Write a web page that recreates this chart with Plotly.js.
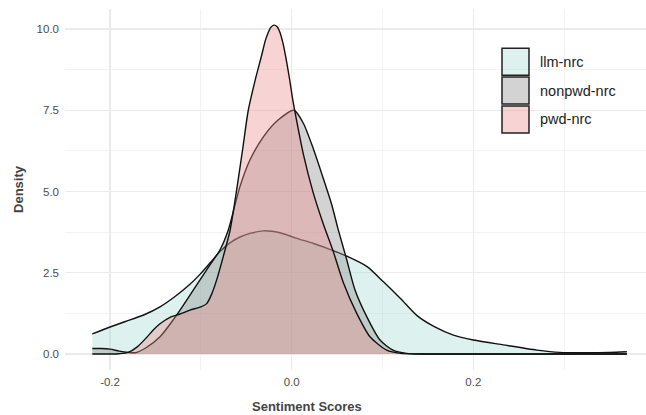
<!DOCTYPE html>
<html><head><meta charset="utf-8">
<script src="https://cdn.plot.ly/plotly-3.0.1.min.js"></script>
<style>html,body{margin:0;padding:0;background:#fff}#chart{width:646px;height:415px}</style>
</head><body><div id="chart"></div>
<script>
// ---- data ----
const seriesNames = ['llm-nrc', 'nonpwd-nrc', 'pwd-nrc'];

const llmX = [-0.2195, -0.2, -0.183, -0.163, -0.145, -0.127, -0.113, -0.101, -0.09, -0.079, -0.068, -0.057, -0.046, -0.031, -0.013, 0.0055, 0.024, 0.042, 0.06, 0.083, 0.101, 0.12, 0.138, 0.157, 0.178, 0.2, 0.233, 0.27, 0.295, 0.325, 0.35, 0.369];
const llmY = [0.62, 0.83, 1.0, 1.2, 1.45, 1.8, 2.12, 2.45, 2.8, 3.15, 3.42, 3.6, 3.71, 3.79, 3.73, 3.56, 3.4, 3.22, 3.02, 2.69, 2.22, 1.7, 1.18, 0.84, 0.58, 0.43, 0.28, 0.12, 0.05, 0.04, 0.05, 0.07];

const nonpwdX = [-0.2195, -0.21, -0.2, -0.19, -0.18, -0.172, -0.16, -0.145, -0.1266, -0.108, -0.09, -0.079, -0.07, -0.057, -0.046, -0.031, -0.015, 0.0025, 0.0128, 0.024, 0.0348, 0.044, 0.051, 0.0606, 0.0697, 0.0826, 0.0972, 0.1115, 0.1266, 0.145, 0.2, 0.3, 0.369];
const nonpwdY = [0.17, 0.17, 0.15, 0.09, 0.05, 0.04, 0.2, 0.53, 1.2, 1.98, 2.74, 3.2, 3.8, 5.15, 5.97, 6.69, 7.2, 7.5, 7.1, 6.3, 5.4, 4.6, 3.85, 2.9, 1.97, 1.15, 0.43, 0.12, 0.02, 0, 0, 0, 0];

const pwdX = [-0.2195, -0.2, -0.19, -0.18, -0.17, -0.16, -0.1524, -0.145, -0.134, -0.123, -0.112, -0.1, -0.0936, -0.088, -0.0826, -0.0734, -0.0679, -0.0606, -0.054, -0.0478, -0.04, -0.033, -0.029, -0.026, -0.023, -0.0195, -0.016, -0.013, -0.0095, -0.0063, -0.002, 0.001, 0.0036, 0.0128, 0.0238, 0.0348, 0.0458, 0.0568, 0.0716, 0.0862, 0.1046, 0.12, 0.14, 0.2, 0.3, 0.369];
const pwdY = [0, 0, 0.01, 0.05, 0.22, 0.5, 0.74, 0.93, 1.13, 1.23, 1.35, 1.45, 1.55, 1.85, 2.28, 3.2, 3.8, 5.05, 6.3, 7.5, 8.45, 9.2, 9.65, 9.88, 10.05, 10.12, 10.07, 9.9, 9.55, 9.1, 8.4, 7.85, 7.45, 6.15, 4.95, 4.0, 3.15, 2.2, 1.25, 0.53, 0.12, 0.02, 0, 0, 0, 0];

const xTickVals = [-0.2, 0.0, 0.2];
const xTickText = ['-0.2', '0.0', '0.2'];
const yTickVals = [0, 2.5, 5, 7.5, 10];
const yTickText = ['0.0', '2.5', '5.0', '7.5', '10.0'];

// ---- styles ----
const fillColors = ['rgba(150,215,205,0.32)', 'rgba(140,140,140,0.38)', 'rgba(235,140,140,0.38)'];
const seriesX = [llmX, nonpwdX, pwdX];
const seriesY = [llmY, nonpwdY, pwdY];

const traces = seriesNames.map((name, i) => ({
  type: 'scatter', mode: 'lines', name: name,
  x: seriesX[i], y: seriesY[i],
  fill: 'tozeroy', fillcolor: fillColors[i],
  line: {color: '#111', width: 1.4, shape: 'spline', smoothing: 0.7},
  showlegend: false, hoverinfo: 'skip'
}));

// panel geometry (px)
const W = 646, H = 415, L = 65, R = 0, T = 9, B = 45;
const pw = W - L - R, ph = H - T - B;
const px2x = p => (p - L) / pw;
const py2y = p => (H - B - p) / ph;

// custom ggplot-like legend
const shapes = [], annotations = [];
const boxL = 502, boxR = 529, box0 = 48.3, boxH = 27, pitch = 28.8;
seriesNames.forEach((name, i) => {
  const top = box0 + i * pitch;
  shapes.push({type: 'rect', xref: 'paper', yref: 'paper', layer: 'above',
    x0: px2x(boxL), x1: px2x(boxR), y0: py2y(top + boxH), y1: py2y(top),
    fillcolor: fillColors[i], line: {color: '#222', width: 1.5}});
  annotations.push({xref: 'paper', yref: 'paper', x: px2x(538), y: py2y(top + boxH / 2),
    xanchor: 'left', yanchor: 'middle', showarrow: false, text: name,
    font: {family: 'Liberation Sans, Arial, sans-serif', size: 14.5, color: '#222'}});
});
annotations.push({xref: 'paper', yref: 'paper', x: px2x(306.7), y: py2y(406),
  xanchor: 'center', yanchor: 'middle', showarrow: false, text: 'Sentiment Scores',
  font: {family: 'Liberation Sans, Arial, sans-serif', size: 13, color: '#444', weight: 'bold'}});

const grid = '#EBEBEB';
const layout = {
  width: W, height: H,
  margin: {l: L, r: R, t: T, b: B, pad: 0},
  paper_bgcolor: '#fff', plot_bgcolor: '#fff',
  font: {family: 'Liberation Sans, Arial, sans-serif', color: '#4D4D4D'},
  showlegend: false,
  xaxis: {
    range: [(L - 291.7) / 908.3, (W - R - 291.7) / 908.3],
    tickvals: xTickVals, ticktext: xTickText,
    showgrid: true, gridcolor: grid, gridwidth: 1.1,
    minor: {dtick: 0.1, tick0: 0, showgrid: true, gridcolor: grid, gridwidth: 0.6},
    zeroline: false, showline: false, ticks: '',
    tickfont: {size: 11.5, color: '#4D4D4D'}, ticklabelstandoff: 3
  },
  yaxis: {
    range: [-(370 - 354) / 32.5, (354 - 9) / 32.5],
    tickvals: yTickVals, ticktext: yTickText,
    showgrid: true, gridcolor: grid, gridwidth: 1.1,
    minor: {dtick: 1.25, tick0: 0, showgrid: true, gridcolor: grid, gridwidth: 0.6},
    zeroline: false, showline: false, ticks: '',
    tickfont: {size: 11.5, color: '#4D4D4D'}, ticklabelstandoff: 5,
    title: {text: 'Density', standoff: 10, font: {size: 13, color: '#444', weight: 'bold'}}
  },
  shapes: shapes, annotations: annotations
};

Plotly.newPlot('chart', traces, layout, {displayModeBar: false, staticPlot: true});
</script>
</body></html>
